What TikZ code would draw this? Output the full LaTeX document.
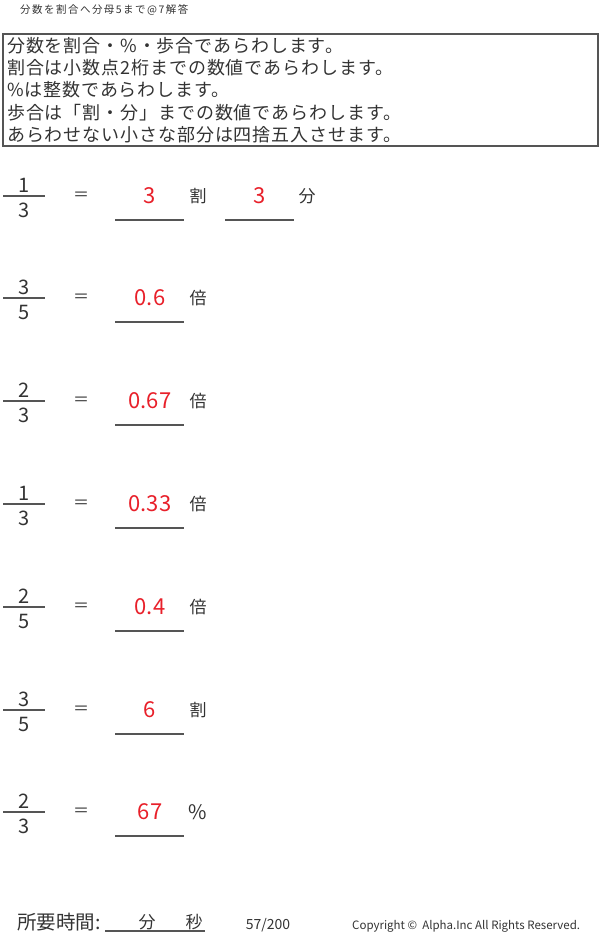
\documentclass[tikz,border=0pt]{standalone}
\usepackage{fontspec}
\setmainfont{Noto Sans CJK JP}
\newfontfamily\spacedfont[LetterSpace=14]{Noto Sans CJK JP}
\newfontfamily\rulefont[LetterSpace=5]{Noto Sans CJK JP}
\definecolor{ink}{HTML}{333333}
\definecolor{rule}{HTML}{555555}
\definecolor{ansred}{HTML}{E8202A}

\begin{document}
\begin{tikzpicture}
[x=1pt,y=-1pt,every node/.style={inner sep=0pt,text=ink},
 frac/.style={font=\fontsize{20}{22}\selectfont},
 eq/.style={font=\fontsize{16}{18}\selectfont},
 answer/.style={font=\fontsize{22}{24}\selectfont,text=ansred},
 unit/.style={font=\fontsize{17}{20}\selectfont},
 bar/.style={draw=rule,line width=1.3pt}]
\useasboundingbox (0,0) rectangle (600,938);
\node[font=\spacedfont\fontsize{10.5}{12}\selectfont,anchor=west] (title) at (20,10) {分数を割合へ分母5まで@7解答};
\draw[rule,line width=1.3pt] (3,34) rectangle (598,146);
\foreach \t [count=\i] in {分数を割合・\%・歩合であらわします。,
  割合は小数点2桁までの数値であらわします。,
  \%は整数であらわします。,
  歩合は「割・分」までの数値であらわします。,
  あらわせない小さな部分は四捨五入させます。}
  \node[font=\rulefont\fontsize{18}{22}\selectfont,anchor=base west] (rule\i) at (7,29.6+22.4*\i) {\t};
% questions
\foreach \n/\d/\a/\u/\y in {1/3/3/割/196,3/5/0.6/倍/298,2/3/0.67/倍/401,1/3/0.33/倍/504,2/5/0.4/倍/607,3/5/6/割/710,2/3/67/{\fontsize{20}{22}\selectfont\%}/812}
{
\node[frac] (num\y) at (24,\y-11) {\n};
\draw[bar] (3,\y) -- (45,\y);
\node[frac] (den\y) at (24,\y+14) {\d};
\node[eq] (eq\y) at (81,\y) {＝};
\node[answer] (ans\y) at (150,\y) {\a};
\draw[bar] (115,\y+24) -- (184,\y+24);
\node[unit] (unit\y) at (198,\y) {\u};
}
\node[answer] (ansb) at (260,196) {3};
\draw[bar] (225,220) -- (294,220);
\node[unit] (unitb) at (307,196) {分};
% footer
\node[font=\fontsize{19.5}{22}\selectfont,anchor=west] (timelbl) at (17,922) {所要時間:};
\draw[bar] (105,931) -- (205,931);
\node[unit] (min) at (147,922) {分};
\node[unit] (sec) at (194,922) {秒};
\node[font=\fontsize{14}{16}\selectfont] (page) at (268,925) {57/200};
\node[font=\fontsize{11.5}{13}\selectfont,anchor=west] (copy) at (352,926) {Copyright ©\ \ Alpha.Inc All Rights Reserved.};
\end{tikzpicture}
\end{document}
